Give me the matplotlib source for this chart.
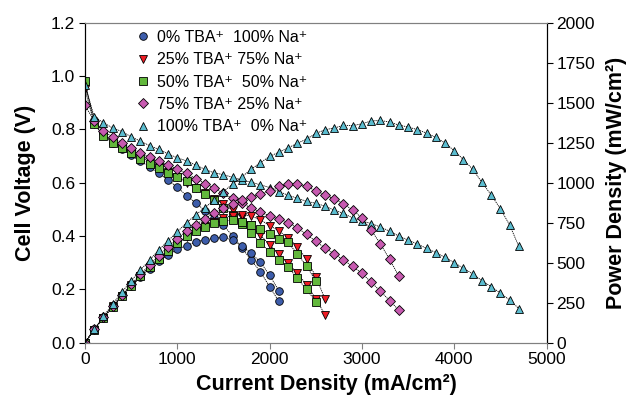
import matplotlib
matplotlib.use("Agg")
import matplotlib.pyplot as plt
from matplotlib.lines import Line2D

plt.rcParams['font.family'] = ['Liberation Sans', 'DejaVu Sans']

# current density of the measured points, mA/cm2
current = [0, 100, 200, 300, 400, 500, 600, 700, 800, 900,
           1000, 1100, 1200, 1300, 1400, 1500, 1600, 1700, 1800, 1900,
           2000, 2100, 2200, 2300, 2400, 2500, 2600, 2700, 2800, 2900,
           3000, 3100, 3200, 3300, 3400, 3500, 3600, 3700, 3800, 3900,
           4000, 4100, 4200, 4300, 4400, 4500, 4600, 4700]

labels = ["0% TBA\u207a  100% Na\u207a", "25% TBA\u207a 75% Na\u207a",
          "50% TBA\u207a  50% Na\u207a", "75% TBA\u207a 25% Na\u207a",
          "100% TBA\u207a  0% Na\u207a"]

# cell voltage, V
volt_0 = [0.97, 0.835, 0.785, 0.75, 0.727, 0.703, 0.68, 0.66, 0.635, 0.61,
          0.583, 0.552, 0.524, 0.495, 0.466, 0.44, 0.40, 0.355, 0.31, 0.266,
          0.21, 0.155]
volt_25 = [0.95, 0.82, 0.78, 0.755, 0.735, 0.715, 0.697, 0.68, 0.66, 0.64,
           0.62, 0.60, 0.58, 0.56, 0.54, 0.52, 0.497, 0.47, 0.44, 0.404,
           0.366, 0.333, 0.298, 0.26, 0.218, 0.165, 0.105]
volt_50 = [0.98, 0.82, 0.775, 0.75, 0.73, 0.71, 0.69, 0.672, 0.655, 0.637,
           0.622, 0.605, 0.58, 0.556, 0.535, 0.505, 0.48, 0.445, 0.41, 0.375,
           0.34, 0.31, 0.285, 0.241, 0.2, 0.154]
volt_75 = [0.89, 0.83, 0.795, 0.77, 0.75, 0.73, 0.712, 0.695, 0.68, 0.665,
           0.65, 0.635, 0.615, 0.597, 0.58, 0.56, 0.541, 0.523, 0.505, 0.49,
           0.475, 0.465, 0.45, 0.43, 0.407, 0.38, 0.355, 0.333, 0.31, 0.286,
           0.26, 0.227, 0.193, 0.158, 0.122]
volt_100 = [0.966, 0.847, 0.825, 0.805, 0.792, 0.772, 0.756, 0.739, 0.725, 0.708,
            0.693, 0.682, 0.666, 0.65, 0.637, 0.63, 0.62, 0.61, 0.602, 0.592,
            0.582, 0.567, 0.553, 0.542, 0.53, 0.523, 0.512, 0.497, 0.485, 0.468,
            0.456, 0.447, 0.434, 0.418, 0.40, 0.385, 0.37, 0.354, 0.338, 0.32,
            0.30, 0.279, 0.258, 0.233, 0.21, 0.186, 0.16, 0.128]

# power density, mW/cm2
power_0 = [0, 84, 157, 225, 291, 352, 408, 462, 508, 549,
           583, 607, 629, 644, 652, 660, 640, 604, 558, 505,
           420, 326]
power_25 = [0, 82, 156, 227, 294, 358, 418, 476, 528, 576,
            620, 660, 696, 728, 756, 780, 795, 799, 792, 768,
            732, 699, 656, 598, 523, 413, 273]
power_50 = [0, 82, 155, 225, 292, 355, 414, 470, 524, 573,
            622, 666, 696, 723, 749, 758, 768, 757, 738, 713,
            680, 651, 627, 554, 480, 385]
power_75 = [0, 83, 159, 231, 300, 365, 427, 487, 544, 599,
            650, 699, 738, 776, 812, 840, 866, 889, 909, 931,
            950, 977, 990, 989, 977, 950, 923, 899, 868, 829,
            780, 704, 618, 521, 415]
power_100 = [0, 85, 165, 242, 317, 386, 454, 517, 580, 637,
             693, 750, 799, 845, 892, 945, 992, 1037, 1084, 1125,
             1164, 1191, 1217, 1247, 1272, 1308, 1331, 1342, 1358, 1357,
             1368, 1386, 1389, 1379, 1360, 1348, 1332, 1310, 1284, 1248,
             1200, 1144, 1084, 1002, 924, 837, 736, 602]

styles = [('o', '#3d5dab', 5.5), ('v', '#ee1c24', 6.0), ('s', '#62b83c', 5.3),
          ('D', '#c75ab0', 5.0), ('^', '#5bbccf', 6.2)]

fig = plt.figure(figsize=(6.33, 4.07), dpi=100)
ax = fig.add_axes([0.1343, 0.158, 0.7291, 0.7862])
ax2 = ax.twinx()

volts = [volt_0, volt_25, volt_50, volt_75, volt_100]
powers = [power_0, power_25, power_50, power_75, power_100]
for v, p, (m, c, ms) in zip(volts, powers, styles):
    kw = dict(marker=m, ms=ms, mfc=c, mec='black', mew=0.6,
              color='black', lw=0.6, ls=(0, (1.5, 1)))
    ax.plot(current[:len(v)], v, **kw)
    ax2.plot(current[:len(p)], p, **kw)

ax.set_xlim(0, 5000)
ax.set_ylim(0, 1.2)
ax2.set_ylim(0, 2000)
ax.set_xticks([0, 1000, 2000, 3000, 4000, 5000])
ax.set_yticks([0.0, 0.2, 0.4, 0.6, 0.8, 1.0, 1.2])
ax.set_yticklabels(['0.0', '0.2', '0.4', '0.6', '0.8', '1.0', '1.2'])
ax2.set_yticks(range(0, 2001, 250))

for a in (ax, ax2):
    a.tick_params(labelsize=12.5, length=4, width=0.8, direction='out', pad=3)
    for s in ('top', 'bottom'):
        a.spines[s].set_color('#808080')
    for s in ('left', 'right'):
        a.spines[s].set_color('black')
ax.tick_params(axis='x', colors='#808080', labelcolor='black')

ax.set_xlabel('Current Density (mA/cm\u00b2)', fontsize=15.5, fontweight='bold')
ax.xaxis.set_label_coords(0.524, -0.097)
ax.set_ylabel('Cell Voltage (V)', fontsize=15.5, fontweight='bold', labelpad=11)
ax2.set_ylabel('Power Density (mW/cm\u00b2)', fontsize=15.5, fontweight='bold', labelpad=8)

handles = [Line2D([], [], ls='none', marker=m, ms=ms, mfc=c, mec='black', mew=0.6)
           for m, c, ms in styles]
ax2.legend(handles, labels, loc='upper left', bbox_to_anchor=(135 / 633, 1 - 30 / 407),
           bbox_transform=fig.transFigure, frameon=False, fontsize=11.5,
           handlelength=1.0, handletextpad=0.35, labelspacing=0.46,
           borderpad=0, borderaxespad=0)

fig.savefig('out.png', dpi=100)
